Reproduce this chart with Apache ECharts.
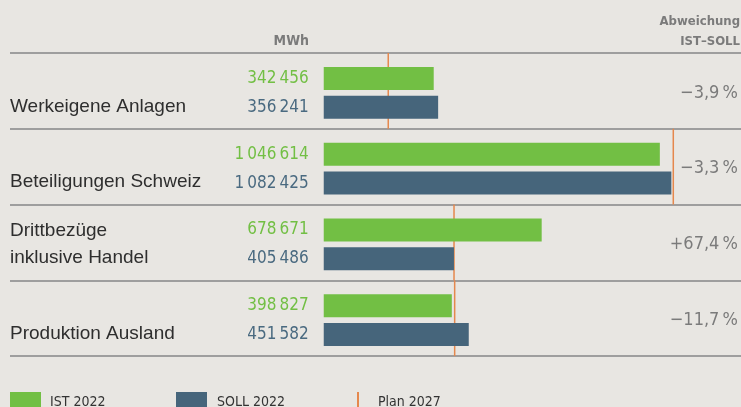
<!DOCTYPE html>
<html><head><meta charset="utf-8">
<script src="https://cdn.jsdelivr.net/npm/echarts@6/dist/echarts.min.js"></script>
<style>html,body{margin:0;padding:0;background:#e8e6e2}#c{width:741px;height:407px}</style>
</head><body><div id="c"></div><script>
const categories = ['Werkeigene Anlagen', 'Beteiligungen Schweiz', 'Drittbezüge\ninklusive Handel', 'Produktion Ausland'];
const ist2022 = [342456, 1046614, 678671, 398827];
const soll2022 = [356241, 1082425, 405486, 451582];
const plan2027 = [196000, 1080000, 400000, 402000];
const deviation = ['\u22123,9\u2009%', '\u22123,3\u2009%', '+67,4\u2009%', '\u221211,7\u2009%'];
const seriesNames = ['IST 2022', 'SOLL 2022', 'Plan 2027'];

const NARROW = "'DejaVu Sans', sans-serif";
const NSTYLE = 'condensed';
const GREEN = '#72bf44', BLUE = '#46657b', ORANGE = '#e5884d', GREY = '#7b7b7b';
const fmt = v => String(v).replace(/\B(?=(\d{3})+(?!\d))/g, '\u2009');
const X_MIN = -977000, X_MAX = 1290000;

const chart = echarts.init(document.getElementById('c'), null, {renderer: 'canvas'});
chart.setOption({
  backgroundColor: '#e8e6e2',
  animation: false,
  grid: [
    {left: 10, right: 0, top: 53, height: 303},
    {left: 10, right: 0, top: 55, height: 303}
  ],
  xAxis: [
    {gridIndex: 0, type: 'value', min: X_MIN, max: X_MAX, show: false},
    {gridIndex: 1, type: 'value', min: X_MIN, max: X_MAX, show: false}
  ],
  yAxis: [
    {gridIndex: 0, type: 'category', data: categories, inverse: true,
     axisLine: {show: false}, axisTick: {show: false}, axisLabel: {show: false},
     splitLine: {show: true, showMinLine: true, showMaxLine: true, lineStyle: {color: '#9e9e9e', width: 2}}},
    {gridIndex: 1, type: 'category', data: categories, inverse: true, position: 'left',
     axisLine: {show: false}, axisTick: {show: false}, splitLine: {show: false},
     axisLabel: {inside: true, margin: 0, align: 'left', color: '#2e2e2e', fontSize: 19,
       fontFamily: "'Liberation Sans', sans-serif", lineHeight: 27,
       formatter: v => v.indexOf('\n') >= 0 ? v : '\n' + v}},
    {gridIndex: 1, type: 'category', data: deviation, inverse: true, position: 'right',
     axisLine: {show: false}, axisTick: {show: false}, splitLine: {show: false},
     axisLabel: {inside: true, margin: 0, color: GREY, fontSize: 18, fontFamily: NARROW, fontStyle: NSTYLE}}
  ],
  legend: [
    {data: [{name: seriesNames[0], icon: 'rect'}], left: 10, top: 392, padding: 0, itemWidth: 31, itemHeight: 20,
     selectedMode: false, textStyle: {color: '#333', fontSize: 14, fontFamily: NARROW, fontStyle: NSTYLE, padding: [0, 0, 0, 4]}},
    {data: [{name: seriesNames[1], icon: 'rect'}], left: 176, top: 392, padding: 0, itemWidth: 31, itemHeight: 20,
     selectedMode: false, textStyle: {color: '#333', fontSize: 14, fontFamily: NARROW, fontStyle: NSTYLE, padding: [0, 0, 0, 5]}},
    {data: [{name: seriesNames[2], icon: 'rect'}], left: 357, top: 392, padding: 0, itemWidth: 2, itemHeight: 20,
     selectedMode: false, textStyle: {color: '#333', fontSize: 14, fontFamily: NARROW, fontStyle: NSTYLE, padding: [0, 0, 0, 14]}}
  ],
  graphic: [
    {type: 'text', x: 309, y: 41, style: {text: 'MWh', align: 'right', verticalAlign: 'middle',
      fontSize: 14, fontWeight: 'bold', fontStyle: NSTYLE, fontFamily: NARROW, fill: GREY}},
    {type: 'text', x: 740, y: 22, style: {text: 'Abweichung', align: 'right', verticalAlign: 'middle',
      fontSize: 13, fontWeight: 'bold', fontStyle: NSTYLE, fontFamily: NARROW, fill: GREY}},
    {type: 'text', x: 740, y: 42, style: {text: 'IST\u2013SOLL', align: 'right', verticalAlign: 'middle',
      fontSize: 13, fontWeight: 'bold', fontStyle: NSTYLE, fontFamily: NARROW, fill: GREY}}
  ],
  series: [
    {name: seriesNames[2], type: 'custom', xAxisIndex: 0, yAxisIndex: 0, z: 1,
     itemStyle: {color: ORANGE},
     data: plan2027.map((v, i) => [v, i]),
     renderItem: (params, api) => {
       const p = api.coord([api.value(0), api.value(1)]);
       const h = api.size([0, 1])[1];
       return {type: 'line', shape: {x1: p[0], y1: p[1] - h / 2, x2: p[0], y2: p[1] + h / 2},
               style: {stroke: ORANGE, lineWidth: 1.5}};
     }},
    {name: seriesNames[0], type: 'bar', xAxisIndex: 1, yAxisIndex: 1, z: 3, data: ist2022,
     barWidth: 23, barGap: '26%', itemStyle: {color: GREEN},
     label: {show: true, position: 'left', distance: 15, formatter: p => fmt(p.value),
       color: GREEN, fontSize: 17, fontFamily: NARROW, fontStyle: NSTYLE}},
    {name: seriesNames[1], type: 'bar', xAxisIndex: 1, yAxisIndex: 1, z: 3, data: soll2022,
     barWidth: 23, barGap: '26%', itemStyle: {color: BLUE},
     label: {show: true, position: 'left', distance: 15, formatter: p => fmt(p.value),
       color: '#4a6a80', fontSize: 17, fontFamily: NARROW, fontStyle: NSTYLE}}
  ]
});
</script></body></html>
